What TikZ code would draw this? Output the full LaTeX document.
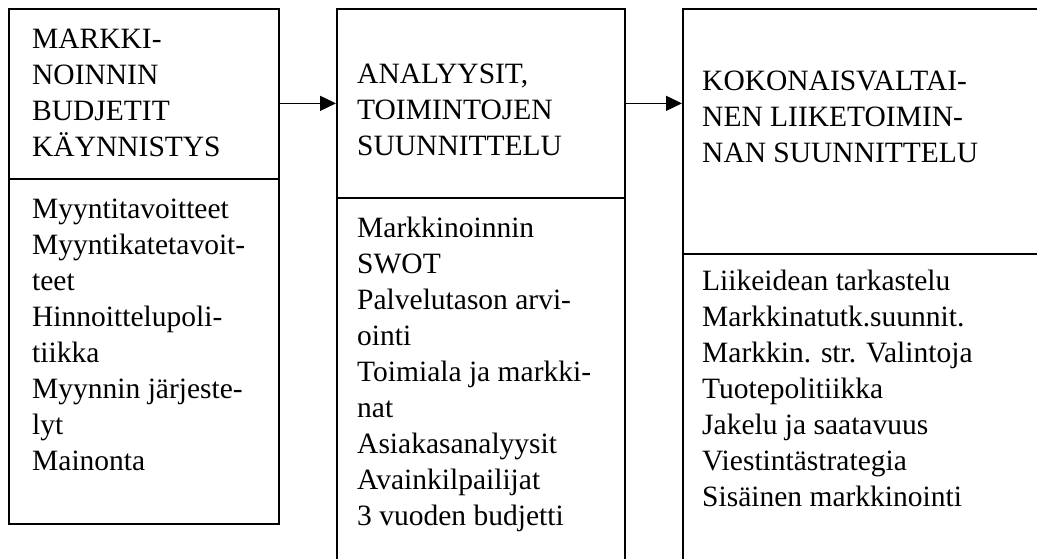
\documentclass[tikz,border=0pt]{standalone}
\usepackage{fontspec}
\setmainfont{Liberation Serif}
\usetikzlibrary{arrows.meta}

\begin{document}
\begin{tikzpicture}[x=1pt,y=-1pt,
    cell/.style={draw,line width=1.7pt,anchor=north west,inner sep=0pt},
    txt/.style={anchor=north west,inner sep=0pt,align=left,
      font=\fontsize{29.5}{36}\selectfont},
    arr/.style={line width=1.4pt,-{Triangle[length=16pt,width=15pt]}}]
      \useasboundingbox (0,0) rectangle (1037,558);
      \clip (0,0) rectangle (1037,558);

      % Phase 1
      \node [cell,minimum width=270pt,minimum height=170pt] (head1) at (8,8) {};
      \node [cell,minimum width=270pt,minimum height=345pt] (body1) at (8,178) {};
      \node [txt] (title1) at (32,22.8) {\strut MARKKI-\\NOINNIN\\BUDJETIT\\KÄYNNISTYS};
      \node [txt] (items1) at (32,192.8) {\strut Myyntitavoitteet\\Myyntikatetavoit-\\teet\\Hinnoittelupoli-\\tiikka\\Myynnin järjeste-\\lyt\\Mainonta};

      % Phase 2
      \node [cell,minimum width=288pt,minimum height=189pt] (head2) at (336,8) {};
      \node [cell,minimum width=288pt,minimum height=400pt] (body2) at (336,197) {};
      \node [txt] (title2) at (357,57.8) {\strut ANALYYSIT,\\TOIMINTOJEN\\SUUNNITTELU};
      \node [txt] (items2) at (357,211.8) {\strut Markkinoinnin\\SWOT\\Palvelutason arvi-\\ointi\\Toimiala ja markki-\\nat\\Asiakasanalyysit\\Avainkilpailijat\\3 vuoden budjetti};

      % Phase 3
      \node [cell,minimum width=380pt,minimum height=245pt] (head3) at (682,8) {};
      \node [cell,minimum width=380pt,minimum height=340pt] (body3) at (682,253) {};
      \node [txt] (title3) at (702,64.8) {\strut KOKONAISVALTAI-\\NEN LIIKETOIMIN-\\NAN SUUNNITTELU};
      \node [txt] (items3) at (702,264.8) {\strut Liikeidean tarkastelu\\Markkinatutk.suunnit.\\Markkin. str. Valintoja\\Tuotepolitiikka\\Jakelu ja saatavuus\\Viestintästrategia\\Sisäinen markkinointi};

      % Arrows
      \draw [arr] (head2.west -| head1.east) -- (head2.west);
      \draw [arr] (head2.east) -- (head2.east -| head3.west);
\end{tikzpicture}
\end{document}
